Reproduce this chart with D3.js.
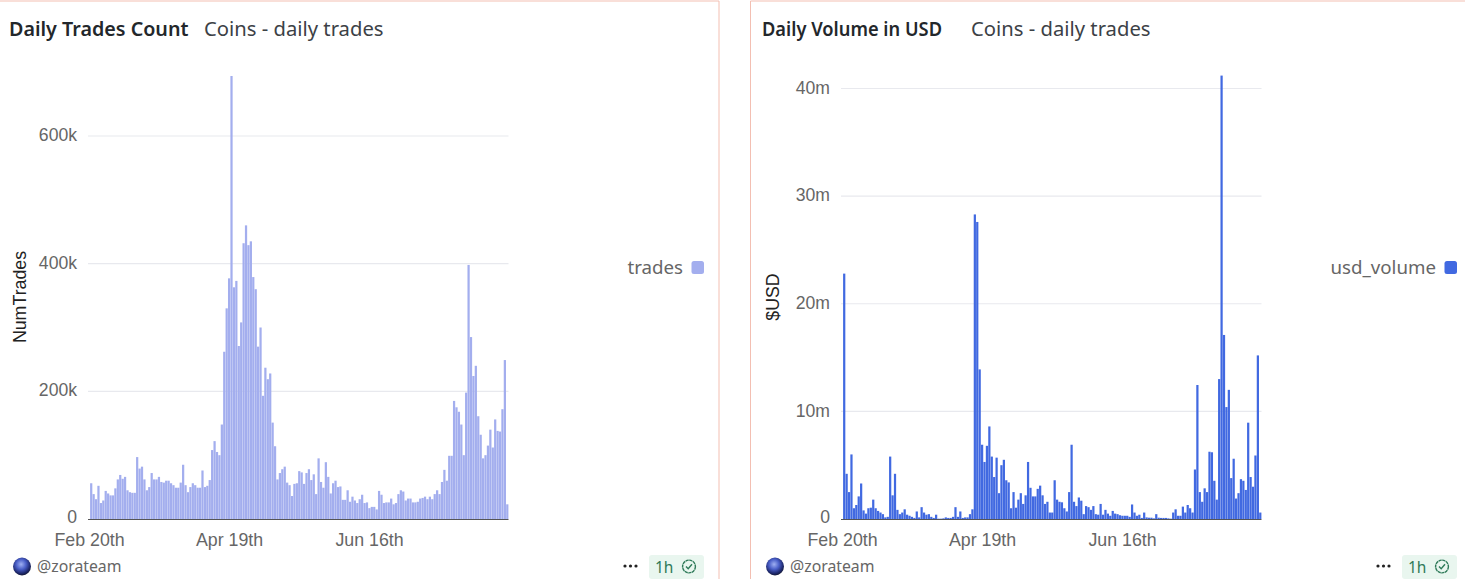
<!DOCTYPE html>
<html><head><meta charset="utf-8">
<script src="https://cdn.jsdelivr.net/npm/d3@7"></script>
<style>html,body{margin:0;padding:0;background:#fff;overflow:hidden}svg{display:block}</style>
</head><body><svg id="c" width="1465" height="579"></svg>
<script>
const startDate = "2025-02-20";
const tickDates = ["2025-02-20","2025-04-19","2025-06-16"];
const tradesK = [56,39,31,52,25,29,44,40,37,37,48,62,69,63,66,45,42,41,41,97,79,82,62,45,50,72,62,62,66,58,57,60,60,56,53,49,49,57,85,53,42,50,56,53,49,49,76,50,52,61,108,122,105,100,148,262,330,377,694,363,373,271,308,432,460,429,435,379,360,270,300,193,237,219,228,151,114,62,72,78,82,57,53,36,55,56,75,
73,55,72,78,61,70,39,95,58,49,89,66,40,56,60,50,51,30,30,45,27,35,29,25,31,38,25,26,17,19,19,15,44,38,25,26,26,32,23,25,39,45,43,29,32,32,26,26,27,32,33,35,31,35,31,39,45,39,58,77,60,99,99,185,175,168,148,100,198,398,285,224,240,161,132,95,100,115,140,112,156,138,137,172,249,23];
const usdM = [22.8,4.2,2.5,6.0,1.0,1.3,2.1,3.3,0.8,0.5,1.0,1.05,1.8,1.0,0.75,0.6,0.45,0.15,0.2,5.8,2.2,4.2,0.85,0.45,0.6,0.9,0.4,0.3,0.2,0.1,0.7,0.15,1.1,0.6,0.4,0.45,0.2,0.1,0.4,0.03,0.03,0.06,0.15,0.1,0.1,0.2,1.1,0.2,0.7,0.1,0.15,0.15,0.45,0.9,28.3,27.6,13.9,6.9,5.3,6.8,8.6,5.8,3.9,5.7,2.4,5.0,5.5,3.6,3.4,1.0,2.5,1.05,1.8,2.4,1.4,2.2,5.3,2.9,2.1,2.1,2.8,3.1,2.2,1.4,1.6,0.6,0.6,3.6,
1.8,1.6,1.55,1.0,0.7,2.5,6.9,1.6,1.2,2.0,1.7,0.45,1.2,1.1,0.85,1.2,0.45,0.4,1.4,0.4,0.85,0.5,0.3,0.75,0.5,0.45,0.35,0.3,0.3,0.3,0.2,1.35,0.6,0.3,0.4,0.1,0.6,0.15,0.12,0.12,0.06,0.45,0.12,0.1,0.1,0.1,0.06,0.03,0.6,0.9,0.3,0.3,1.15,0.6,1.3,1.0,0.6,4.6,12.45,2.5,1.6,2.85,2.5,6.25,6.2,3.55,1.8,13,41.2,17.1,10.4,12.0,3.8,5.6,1.9,2.4,3.7,3.55,2.7,8.95,3.9,3.0,5.9,15.2,0.6];
const tradesTicks = [0,200,400,600];
const usdTicks = [0,10,20,30,40];

const parse = d3.utcParse("%Y-%m-%d");
const days = d3.utcDay.range(parse(startDate), d3.utcDay.offset(parse(startDate), tradesK.length));
const ordinal = n => { const d=n%10, t=n%100; return n + ((t>=11&&t<=13)?"th":d==1?"st":d==2?"nd":d==3?"rd":"th"); };
const fmtDate = d => d3.utcFormat("%b ")(d) + ordinal(d.getUTCDate());

const svg = d3.select("#c");
const SANS = "'Liberation Sans',Arial,sans-serif";
const UI = "'Noto Sans',sans-serif";

const defs = svg.append("defs");
const grad = defs.append("radialGradient").attr("id","ball").attr("cx","45%").attr("cy","38%").attr("r","62%");
[["0%","#9fb0f2"],["45%","#4a5fc8"],["80%","#1f2a70"],["100%","#141836"]].forEach(s=>grad.append("stop").attr("offset",s[0]).attr("stop-color",s[1]));

function card(o){
  const g = svg.append("g");
  g.append("path").attr("d",o.border).attr("fill","none").attr("stroke","#f3bfb2").attr("stroke-width",1);
  g.append("text").attr("x",o.cx+9).attr("y",35.5).attr("font-family",UI).attr("font-weight",600).attr("font-size",19).attr("fill","#23272b")
    .attr("textLength",o.titleW).attr("lengthAdjust","spacingAndGlyphs").text(o.title);
  g.append("text").attr("x",o.cx+o.subX).attr("y",35.5).attr("font-family",UI).attr("font-size",20).attr("fill","#3c4146")
    .attr("textLength",179.5).attr("lengthAdjust","spacingAndGlyphs").text("Coins - daily trades");

  const x = d3.scaleBand().domain(days).range([o.cx+90,o.cx+508.5]).paddingInner(0.08).paddingOuter(0.04);
  const y = d3.scaleLinear().domain([0,o.yMaxDomain]).range([519,o.yTop]);

  g.append("g").selectAll("line").data(o.ticks.filter(t=>t>0)).join("line")
    .attr("x1",o.cx+88).attr("x2",o.cx+508.5).attr("y1",d=>y(d)).attr("y2",d=>y(d))
    .attr("stroke","#e8e9ee").attr("stroke-width",1.2);

  g.append("g").selectAll("rect").data(o.values).join("rect")
    .attr("x",(d,i)=>x(days[i])).attr("width",x.bandwidth())
    .attr("y",d=>y(d)).attr("height",d=>y(0)-y(d)).attr("fill",o.color);

  const ya = d3.axisLeft(y).tickValues(o.ticks).tickFormat(o.yfmt).tickSize(0).tickPadding(0);
  const yg = g.append("g").attr("transform",`translate(${o.cx+o.yLabelX},0)`).call(ya);
  yg.select(".domain").remove();
  yg.selectAll("text").attr("font-family",SANS).attr("font-size",17.6).attr("fill","#666").attr("dy",".32em");
  yg.selectAll("text").attr("transform",d=>d===0?"translate(0,-2)":"translate(0,-1)");

  g.append("line").attr("x1",o.cx+88).attr("x2",o.cx+508.5).attr("y1",519.5).attr("y2",519.5).attr("stroke","#555").attr("stroke-width",1);

  const xa = d3.axisBottom(d3.scaleUtc().domain([days[0],days[days.length-1]]).range([o.cx+89,o.cx+89+(days.length-1)*2.414]))
    .tickValues(tickDates.map(parse)).tickFormat(fmtDate).tickSize(0).tickPadding(0);
  const xg = g.append("g").attr("transform","translate(0,533)").call(xa);
  xg.select(".domain").remove();
  xg.selectAll("text").attr("font-family",SANS).attr("font-size",17.8).attr("fill","#666").attr("dy",".71em");

  g.append("text").attr("transform",`translate(${o.cx+o.yTitleX},${o.yTitleY}) rotate(-90)`).attr("text-anchor","middle")
    .attr("font-family",SANS).attr("font-size",17.8).attr("fill","#222").text(o.yTitle);

  g.append("text").attr("x",o.legendRight-21).attr("y",274).attr("text-anchor","end").attr("font-family",UI).attr("font-size",18.7).attr("fill","#666").text(o.series);
  g.append("rect").attr("x",o.legendRight-12.5).attr("y",261).attr("width",12.5).attr("height",13).attr("rx",2.5).attr("fill",o.color);

  g.append("circle").attr("cx",o.cx+22).attr("cy",566.5).attr("r",9).attr("fill","url(#ball)");
  g.append("text").attr("x",o.cx+37).attr("y",572).attr("font-family",UI).attr("font-size",15.8).attr("fill","#666").text("@zorateam");
  g.selectAll(".dot").data([0,1,2]).join("circle").attr("cx",d=>o.cx+625+d*5.5).attr("cy",566).attr("r",1.6).attr("fill","#222");
  g.append("rect").attr("x",o.cx+649).attr("y",555).attr("width",55).attr("height",24).attr("rx",3).attr("fill","#e9f6ef");
  g.append("text").attr("x",o.cx+655).attr("y",573).attr("font-family",UI).attr("font-size",15.5).attr("fill","#2f7a59").text("1h");
  const chk = g.append("g").attr("transform",`translate(${o.cx+689},566.5)`);
  chk.append("circle").attr("r",6.4).attr("fill","none").attr("stroke","#2f7a59").attr("stroke-width",1.4).attr("stroke-dasharray","3.2 .5");
  chk.append("path").attr("d","M-3,0 L-.8,2.3 L3,-2.2").attr("fill","none").attr("stroke","#2f7a59").attr("stroke-width",1.4);
}

card({cx:0,border:"M-2,1 H719 V579",title:"Daily Trades Count",titleW:179.5,subX:204,values:tradesK,ticks:tradesTicks,yMaxDomain:600,yTop:136,
  color:"#a3aeee",yfmt:d=>d===0?"0":d+"k",yLabelX:77,yTitle:"NumTrades",yTitleX:26,yTitleY:297,series:"trades",legendRight:704});
card({cx:753,border:"M750.5,579 V1 H1467",title:"Daily Volume in USD",titleW:180,subX:218,values:usdM,ticks:usdTicks,yMaxDomain:40,yTop:88.5,
  color:"#4169e1",yfmt:d=>d===0?"0":d+"m",yLabelX:77,yTitle:"$USD",yTitleX:26,yTitleY:297,series:"usd_volume",legendRight:1457});
</script></body></html>
